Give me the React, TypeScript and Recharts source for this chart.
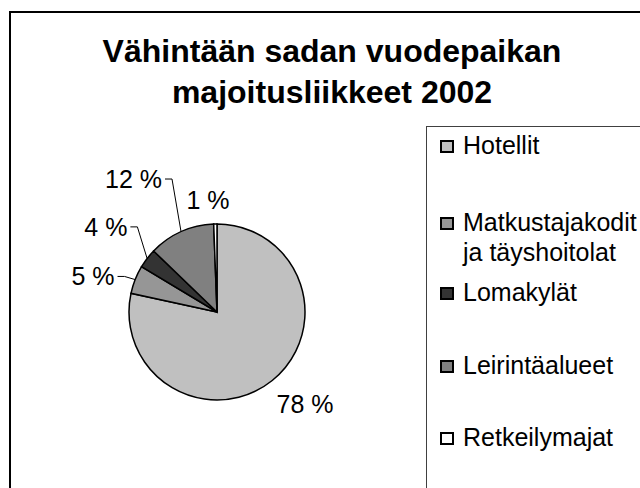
import { Cell, Legend, Pie, PieChart } from "recharts";

const NAMES = ["Hotellit", "Matkustajakodit ja täyshoitolat", "Lomakylät", "Leirintäalueet", "Retkeilymajat"];
const SHARES = [78.4, 5.2, 3.6, 12.2, 0.6];
const COLORS = ["#C0C0C0", "#969696", "#333333", "#808080", "#FFFFFF"];
const TITLE_LINES = ["Vähintään sadan vuodepaikan", "majoitusliikkeet 2002"];

// label placement: angle nudge (deg) from slice middle, distance beyond the rim, leader line or not
const LABEL_NUDGE = [
  { da: 5, dr: 39, leader: false },
  { da: 5.6, dr: 41, leader: true },
  { da: 0, dr: 52, leader: true },
  { da: 8, dr: 69, leader: true },
  { da: 3.5, dr: 24, leader: false },
];
// top of each legend row, px from the legend box top
const LEGEND_ROW_TOP = [3, 80, 150, 223, 295];

const FONT = '"Liberation Sans", Arial, sans-serif';
const RAD = Math.PI / 180;

const data = NAMES.map((name, i) => ({ name, value: SHARES[i] }));

function renderLabel(props: any) {
  const { cx, cy, midAngle, outerRadius, percent, index } = props;
  const n = LABEL_NUDGE[index];
  const a = (midAngle + n.da) * RAD;
  const r = outerRadius + n.dr;
  const lx = cx + r * Math.cos(a);
  const ly = cy - r * Math.sin(a);
  const text = `${Math.round(percent * 100)} %`;
  const fontSize = 25;
  const digits = text.length - 2;
  const halfW = (fontSize * (0.556 * digits + 0.278 + 0.889)) / 2;
  let leader = null;
  if (n.leader) {
    const ex = cx + outerRadius * Math.cos(midAngle * RAD);
    const ey = cy - outerRadius * Math.sin(midAngle * RAD);
    const x0 = lx + halfW + 3;
    const x1 = lx + halfW + 10;
    leader = <polyline points={`${x0},${ly} ${x1},${ly} ${ex},${ey}`} fill="none" stroke="#000" strokeWidth={1} />;
  }
  return (
    <g key={`lbl-${index}`}>
      {leader}
      <text x={lx} y={ly + 9} textAnchor="middle" fontSize={fontSize} fontFamily={FONT} fill="#000">
        {text}
      </text>
    </g>
  );
}

function LegendBox() {
  return (
    <div style={{ position: "relative", width: "100%", height: "100%", fontFamily: FONT, fontSize: 25, lineHeight: "30px", color: "#000" }}>
      {NAMES.map((name, i) => (
        <div key={name} style={{ position: "absolute", left: 0, top: LEGEND_ROW_TOP[i], width: 280 }}>
          <div
            style={{
              position: "absolute",
              left: 13,
              top: 10,
              width: 14,
              height: 13,
              boxSizing: "border-box",
              border: "2px solid #000",
              background: COLORS[i],
            }}
          />
          <div style={{ marginLeft: 36, width: 200, whiteSpace: "normal" }}>{name}</div>
        </div>
      ))}
    </div>
  );
}

export default function App() {
  return (
    <div style={{ position: "fixed", left: 0, top: 0, width: 640, height: 488, overflow: "hidden", background: "#fff" }}>
      <div
        style={{
          position: "absolute",
          left: 9,
          top: 11,
          width: 700,
          height: 600,
          border: "2px solid #000",
          boxSizing: "border-box",
          background: "#fff",
        }}
      >
        <svg width={680} height={120} style={{ position: "absolute", left: 0, top: 0 }}>
          {TITLE_LINES.map((t, i) => (
            <text key={t} x={321} y={49 + i * 41} textAnchor="middle" fontSize={32} fontWeight="bold" fontFamily={FONT} fill="#000">
              {t}
            </text>
          ))}
        </svg>
        <PieChart width={680} height={580} margin={{ top: 0, right: 0, bottom: 0, left: 0 }} style={{ position: "absolute", left: 0, top: 0 }}>
          <Pie
            data={data}
            dataKey="value"
            nameKey="name"
            cx={206}
            cy={299}
            outerRadius={88}
            startAngle={90}
            endAngle={-270}
            stroke="#000"
            strokeWidth={1.5}
            label={renderLabel}
            labelLine={false}
            isAnimationActive={false}
          >
            {data.map((d, i) => (
              <Cell key={d.name} fill={COLORS[i]} />
            ))}
          </Pie>
          <Legend
            layout="vertical"
            align="right"
            verticalAlign="top"
            content={<LegendBox />}
            wrapperStyle={{
              left: 415,
              top: 113,
              width: 300,
              height: 480,
              border: "1px solid #404040",
              boxSizing: "border-box",
              background: "#fff",
            }}
          />
        </PieChart>
      </div>
    </div>
  );
}
